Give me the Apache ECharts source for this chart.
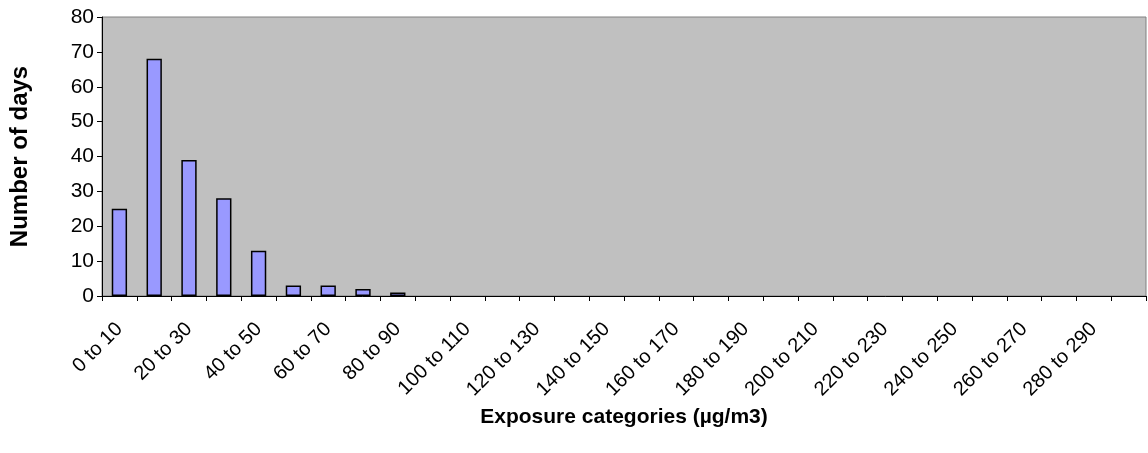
<!DOCTYPE html>
<html>
<head>
<meta charset="utf-8">
<script src="https://cdn.jsdelivr.net/npm/echarts@6/dist/echarts.min.js"></script>
<style>
  html, body { margin: 0; padding: 0; background: #fff; }
  #chart { width: 1148px; height: 453px; }
</style>
</head>
<body>
<div id="chart"></div>
<script>
// exposure bins, 0-10 ... 290-300
const categories = []
for (let i = 0; i < 30; i++) {
  categories.push(i * 10 + ' to ' + (i * 10 + 10))
}
const days = [25, 68, 39, 28, 13, 3, 3, 2, 1, 0, 0, 0, 0, 0, 0,
  0, 0, 0, 0, 0, 0, 0, 0, 0, 0, 0, 0, 0, 0, 0]
const yTicks = { min: 0, max: 80, interval: 10 }

const chart = echarts.init(document.getElementById('chart'))
const font = 'Liberation Sans, Arial, sans-serif'

chart.setOption({
  animation: false,
  textStyle: { fontFamily: font },
  grid: {
    left: 100,
    right: 2,
    top: 17,
    bottom: 157,
    show: true,
    backgroundColor: '#C0C0C0',
    borderColor: '#808080',
    borderWidth: 1
  },
  xAxis: {
    type: 'category',
    data: categories,
    name: 'Exposure categories (µg/m3)',
    nameLocation: 'middle',
    nameGap: 110,
    nameTextStyle: { fontSize: 21, fontWeight: 'bold', color: '#000', fontFamily: font },
    axisLine: { lineStyle: { color: '#000', width: 1 } },
    axisTick: { show: true, interval: 0, length: 5, lineStyle: { color: '#000' } },
    axisLabel: {
      interval: 1,
      rotate: 45,
      fontSize: 20,
      color: '#000',
      fontFamily: font,
      margin: 30
    }
  },
  yAxis: {
    type: 'value',
    min: yTicks.min,
    max: yTicks.max,
    interval: yTicks.interval,
    name: 'Number of days',
    nameLocation: 'middle',
    nameGap: 70,
    nameTextStyle: { fontSize: 24, fontWeight: 'bold', color: '#000', fontFamily: font },
    axisLine: { show: true, lineStyle: { color: '#000', width: 1 } },
    axisTick: { show: true, length: 5, lineStyle: { color: '#000' } },
    axisLabel: { fontSize: 21, color: '#000', fontFamily: font, margin: 8 },
    splitLine: { show: false }
  },
  series: [
    {
      type: 'bar',
      // empty bins are drawn as no bar at all
      data: days.map(v => (v === 0 ? '-' : v)),
      barWidth: '44%',
      itemStyle: {
        color: '#9999FF',
        borderColor: '#000',
        borderWidth: 1.5
      }
    }
  ]
})
</script>
</body>
</html>
